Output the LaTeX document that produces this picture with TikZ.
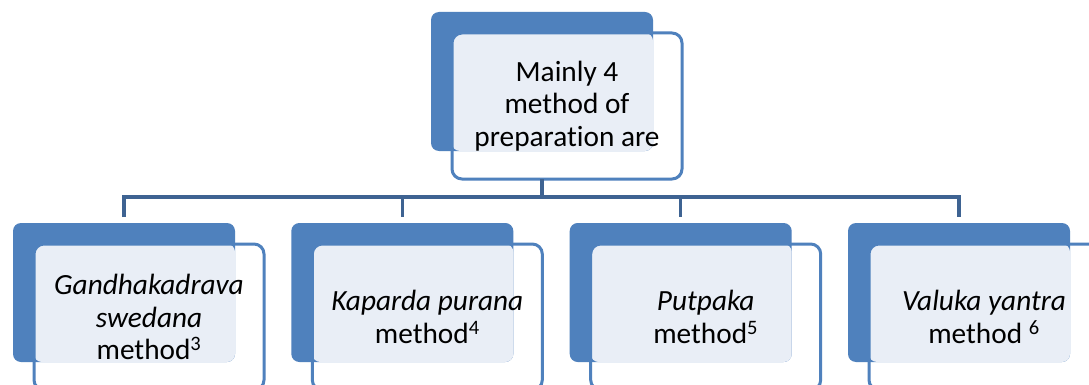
\documentclass[tikz,border=0pt]{standalone}
\usepackage{fontspec}
\setmainfont{Carlito}[Ligatures={NoCommon,NoContextual}]
\definecolor{backblue}{RGB}{79,129,189}
\definecolor{lineblue}{RGB}{62,99,146}
\definecolor{paleblue}{RGB}{233,238,246}
\tikzset{
  backbox/.style={rectangle, rounded corners=8pt, fill=backblue, minimum width=222pt,
    minimum height=139pt, inner sep=0pt, outer sep=0pt, anchor=north west},
  frontbox/.style={rectangle, rounded corners=10pt, draw=backblue, line width=3pt,
    minimum width=230pt, minimum height=146pt, outer sep=0pt, anchor=north west,
    align=center, font=\fontsize{29.3}{32.5}\selectfont},
  conn/.style={draw=lineblue, line width=3.5pt},
}
\begin{document}
\begin{tikzpicture}[x=1pt,y=-1pt]
\clip (0,0) rectangle (1089,385);
\fill[white] (0,0) rectangle (1089,385);

% top box
\node[backbox] (topback) at (431,12) {};
\fill[paleblue, rounded corners=8pt] ([xshift=21pt,yshift=-21pt]topback.north west) rectangle (topback.south east);
\node[frontbox] (top) at ([xshift=21pt,yshift=-21pt]topback.north west) {Mainly 4\\method of\\preparation are};

% bottom boxes
\foreach \i/\x/\txt in {1/13/{\textit{Gandhakadrava}\\\textit{swedana}\\method\textsuperscript{3}},
                        2/291.3/{\textit{Kaparda purana}\\method\textsuperscript{4}},
                        3/569.7/{\textit{Putpaka}\\method\textsuperscript{5}},
                        4/848/{\textit{Valuka yantra}\\method \textsuperscript{6}}}
{
    \node[backbox] (back\i) at (\x,223) {};
    \fill[paleblue, rounded corners=8pt] ([xshift=21pt,yshift=-21pt]back\i.north west) rectangle (back\i.south east);
    \node[frontbox] (box\i) at ([xshift=21pt,yshift=-21pt]back\i.north west) {\txt};
}

% connectors
\coordinate (bus) at (0,197);
\draw[conn] (topback.south |- top.south) -- (topback.south |- bus);
\draw[conn] ([yshift=6pt]back1.north) -- (back1.north |- bus) -- (back4.north |- bus) -- ([yshift=6pt]back4.north);
\draw[conn] (back2.north |- bus) -- ([yshift=6pt]back2.north);
\draw[conn] (back3.north |- bus) -- ([yshift=6pt]back3.north);

\end{tikzpicture}
\end{document}
